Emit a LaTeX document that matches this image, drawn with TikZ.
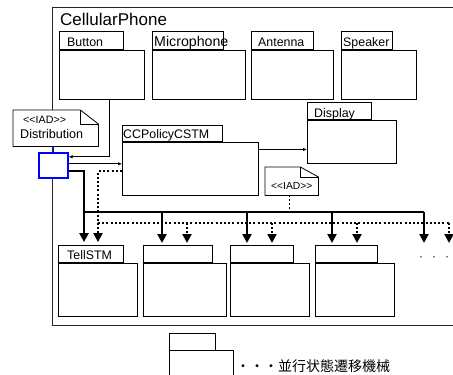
\documentclass[tikz,border=0pt]{standalone}
\usepackage{fontspec}
\setmainfont{Liberation Sans}
\newfontfamily\cjk{Noto Sans CJK JP}
\usetikzlibrary{arrows.meta}
\tikzset{
  body/.style={draw=black, fill=white, line width=0.9pt, inner sep=0pt, anchor=north west},
  tab/.style={draw=black, fill=white, line width=0.9pt, inner sep=0pt, anchor=south west},
  lbl/.style={inner sep=0pt, anchor=base west, font=\fontsize{12.4}{13}\selectfont},
  thinarr/.style={line width=0.8pt, -{Latex[length=4pt,width=3.5pt]}},
  thk/.style={line width=2.5pt},
  thkarr/.style={line width=2.5pt, -{Triangle[length=9pt,width=9pt]}, shorten >=3pt},
  dots/.style={line width=2pt, dash pattern=on 2pt off 2.2pt},
  dotsarr/.style={line width=2pt, dash pattern=on 2pt off 2.2pt, -{Triangle[length=9pt,width=9pt]}, shorten >=3pt},
  notebox/.style={fill=white, inner sep=0pt, anchor=north west},
}
\newcommand\pkgdraw[8]{% name, x, tabright, bodyright, tabtop, bodytop, bodybottom
  \node[body, minimum width=#4-#2, minimum height=#7-#6] (#1) at (#2,#6) {};
  \node[tab, minimum width=#3-#2, minimum height=#6-#5] (#1T) at (#1.north west) {};
}
\begin{document}
\begin{tikzpicture}[x=1pt,y=-1pt]
\useasboundingbox (0,0) rectangle (453,375);
% frame
\draw[black!85, line width=1pt] (453,7) -- (52,7) -- (52,325) -- (453,325);
\node[inner sep=0pt, anchor=base west, font=\fontsize{17}{18}\selectfont] (title) at (60,25.5) {CellularPhone};

% top packages
\pkgdraw{btn}{59}{123}{144}{32}{50}{99}{}
\node[lbl] at ([shift={(8,-4)}]btnT.south west) {Button};
\pkgdraw{mic}{152}{223}{245}{32}{50}{99}{}
\node[lbl, font=\fontsize{14.2}{15}\selectfont] at ([shift={(2,-4)}]micT.south west) {Microphone};
\pkgdraw{ant}{251}{313}{333}{32}{50}{99}{}
\node[lbl] at ([shift={(7,-4)}]antT.south west) {Antenna};
\pkgdraw{spk}{341}{392}{416}{32}{50}{99}{}
\node[lbl] at ([shift={(2,-4)}]spkT.south west) {Speaker};

% display and policy
\pkgdraw{disp}{307}{371}{396}{103}{120}{163}{}
\node[lbl] at ([shift={(7,-3)}]dispT.south west) {Display};
\pkgdraw{ccp}{122}{222}{258}{126}{142}{195}{}
\node[lbl] at ([shift={(1,-3.5)}]ccpT.south west) {CCPolicyCSTM};

% bottom packages
\pkgdraw{tell}{58}{123}{137}{246}{263}{316}{}
\node[lbl] at ([shift={(9,-4)}]tellT.south west) {TellSTM};
\pkgdraw{pb}{143}{212}{226}{246}{263}{316}{}
\pkgdraw{pc}{230}{293}{309}{246}{263}{316}{}
\pkgdraw{pd}{315}{377}{394}{246}{263}{316}{}

% Distribution note
\node[notebox, minimum width=85pt, minimum height=36pt] (dist) at (13,110) {};
\draw[line width=0.8pt] (dist.north west) -- ([xshift=-18pt]dist.north east) -- ([yshift=-14pt]dist.north east) -- (dist.south east) -- (dist.south west) -- cycle;
\draw[line width=0.8pt] ([xshift=-18pt]dist.north east) |- ([yshift=-14pt]dist.north east);
\node[inner sep=0pt, anchor=base west, font=\fontsize{10.7}{11}\selectfont] at (23,123) {<{}<IAD>{}>};
\node[lbl, font=\fontsize{12.6}{13}\selectfont] at (20,138) {Distribution};

% blue square
\node[draw=blue, line width=1.6pt, fill=white, minimum width=29pt, minimum height=25pt, inner sep=0pt, anchor=north west] (dsq) at (38,152) {};
\draw[blue, line width=1.6pt] (dsq.north |- dist.south) -- (dsq.north);

% second IAD note
\node[notebox, minimum width=53pt, minimum height=28pt] (iad) at (265,167) {};
\draw[line width=0.8pt] (iad.north west) -- ([xshift=-18pt]iad.north east) -- ([yshift=-10pt]iad.north east) -- (iad.south east) -- (iad.south west) -- cycle;
\draw[line width=0.8pt] ([xshift=-18pt]iad.north east) |- ([yshift=-10pt]iad.north east);
\node[inner sep=0pt, anchor=base west, font=\fontsize{10.3}{11}\selectfont] at (271,189) {<{}<IAD>{}>};

% thin connectors
\coordinate (b0) at ([xshift=50pt]btn.south west);
\coordinate (s0) at ([yshift=8.5pt]dsq.east);
\draw[thinarr] (b0) |- (s0);
\coordinate (s1) at ([yshift=1.5pt]dsq.east);
\draw[thinarr] (s1) -- (s1 -| ccp.west);
\coordinate (s2) at ([yshift=19.5pt]ccp.east);
\draw[thinarr] (s2) -- (s2 -| disp.west);

% thick distribution
\coordinate (t0) at ([yshift=-5.5pt]dsq.east);
\coordinate (h0) at (84,212);
\coordinate (h4) at (424,212);
\coordinate (e4) at (424,246);
\draw[thkarr] (t0) -| ([xshift=26pt]tellT.north west);
\draw[thk] (h0) -- (h4);
\draw[thkarr] (162,212) -- (162,246);
\draw[thkarr] (247,212) -- (247,246);
\draw[thkarr] (332,212) -- (332,246);
\draw[thkarr] (h4) -- (e4);

% dotted distribution
\coordinate (d0) at ([yshift=-2.5pt]ccp.west);
\coordinate (dh) at (98,223);
\coordinate (d4) at (449,223);
\coordinate (f4) at (449,246);
\draw[dotsarr] (d0) -| ([xshift=40pt]tellT.north west);
\draw[dots] (dh) -- (d4);
\draw[dotsarr] (187,223) -- (187,246);
\draw[dotsarr] (272,223) -- (272,246);
\draw[dotsarr] (357,223) -- (357,246);
\draw[dotsarr] (d4) -- (f4);

% IAD to thick line
\draw[line width=0.8pt, dash pattern=on 2pt off 2pt] (iad.south -| 289,0) -- (289,212);

% continuation dots
\node[inner sep=0pt, font=\fontsize{12}{12}\selectfont] at (434,259) {·\hspace{9pt}·\hspace{9pt}·};

% legend
\draw[line width=0.9pt] (169,376) -- (169,333) -- (215,333) -- (215,350);
\draw[line width=0.9pt] (169,350) -- (233,350) -- (233,376);
\node[inner sep=0pt, anchor=base west, font=\cjk\fontsize{14}{15}\selectfont] (leg) at (236,371) {・・・並行状態遷移機械};
\end{tikzpicture}
\end{document}
